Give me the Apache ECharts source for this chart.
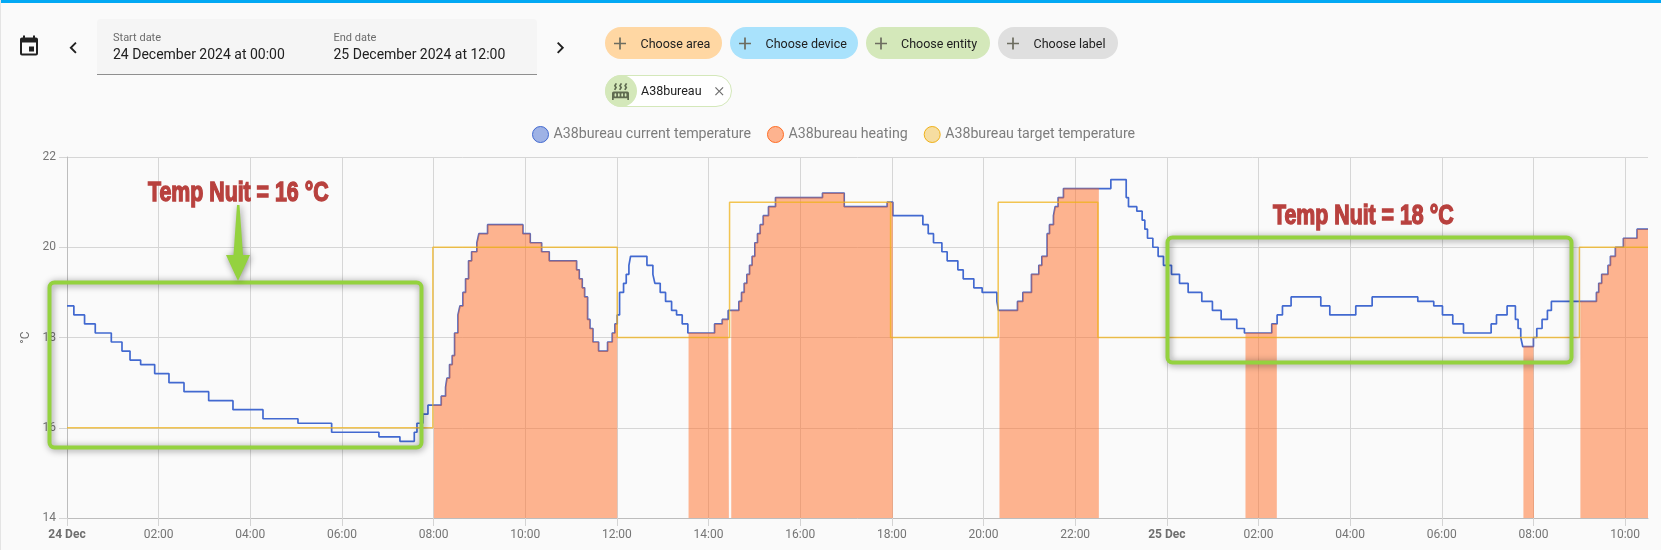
<!DOCTYPE html>
<html><head><meta charset="utf-8">
<style>html,body{margin:0;padding:0;background:#fafafa}#c{width:1661px;height:550px}</style>
<script src="https://cdn.jsdelivr.net/npm/echarts@6/dist/echarts.min.js"></script>
</head><body><div id="c"></div>
<script>
// minutes since 24 Dec 2024 00:00
const tempMinutes = [0,9,23,37,58,72,82.5,96.4,114.8,133.5,153.2,185.5,217.3,256.6,302.4,346.5,408.4,435.9,454.7,458.2,466,472.6,
490,495.7,497.5,500.9,504.4,507.5,511.9,514.5,518.4,521.9,525.8,529.8,536.7,539.3,550.7,596.9,606.5,621.4,631.4,667.2,670.7,674.6,677.7,681.6,684.7,688.6,696,707.8,713.9,717.4,720.4,723.5,728.7,732.2,735.7,737.9,759.3,767.1,769.7,776.7,783.7,791.6,798.1,805.5,812.9,847.9,857.9,865.7,879.7,883.2,886.7,890.2,893.7,897.1,900.6,904.1,907.6,911.6,918.5,927.7,989.2,1017.6,
1073.9,1081.3,1120.6,1127.6,1134.5,1145.5,1152.4,1166.4,1173.4,1187.3,1198.2,1217.5,1219.6,1244.5,1251.5,1262.8,1272.4,1276.4,1283.3,1286.4,1291.6,1293.8,1297.7,1304.7,1366.7,1386.8,1389.8,1400.7,1407.7,1411.2,1414.7,1421.7,1428.6,1435.6,1446.1,1456.6,1467.9,1485.8,1499.7,1511.1,1531.6,1541.6,
1577.4,1584.4,1591.4,1602.7,1641.6,1653.4,1687.4,1708.8,1768.6,1789.5,1800.9,1814.4,1828.4,1864.6,1871.6,1885.5,1896.4,1899.9,1903.4,1906,1920,1924.4,1931.3,1938.3,1943.5,2002.5,2005.5,2009.4,2017.7,2020.8,2027.3,2037.8,2055.7,2070];
const tempValues = [18.7,18.5,18.3,18.1,17.9,17.7,17.5,17.4,17.2,17.0,16.8,16.6,16.4,16.2,16.1,15.9,15.8,15.7,15.9,16.1,16.3,16.5,
16.7,16.9,17.1,17.4,17.6,18.1,18.5,18.7,19.0,19.3,19.7,19.9,20.1,20.3,20.5,20.3,20.1,19.9,19.7,19.5,19.3,19.1,18.9,18.4,18.2,17.9,17.7,17.9,18.1,18.3,18.5,19.0,19.2,19.4,19.6,19.8,19.6,19.4,19.2,19.0,18.8,18.6,18.5,18.3,18.1,18.3,18.4,18.6,18.8,19.0,19.2,19.4,19.6,19.8,20.1,20.3,20.5,20.7,20.9,21.1,21.2,20.9,
21.0,20.7,20.5,20.3,20.1,19.9,19.7,19.5,19.3,19.1,19.0,18.8,18.6,18.8,19.0,19.4,19.6,19.8,20.3,20.5,20.7,20.9,21.1,21.3,21.5,21.1,20.9,20.8,20.6,20.4,20.2,20.0,19.8,19.6,19.4,19.2,19.0,18.8,18.6,18.4,18.2,18.1,
18.3,18.5,18.7,18.9,18.7,18.5,18.7,18.9,18.8,18.7,18.5,18.3,18.1,18.3,18.5,18.7,18.4,18.2,18.0,17.8,18.0,18.2,18.4,18.6,18.8,19.0,19.2,19.4,19.6,19.8,20.0,20.2,20.4,20.4];
const targetMinutes = [0,479,720.4,867.5,1078.3,1219.2,1349.7,1980.2,2070];
const targetValues = [16,20,18,21,18,21,18,20,20];
const heatStarts = [480.4,813.8,869.7,1220.9,1543,1906.9,1981.5];
const heatEnds   = [720.4,866.6,1081.3,1351,1584,1920.8,2070];
const seriesNames = ['A38bureau current temperature','A38bureau heating','A38bureau target temperature'];
const yTicks = {min:14,max:22,interval:2};
const xTickMinutes = [0,120,240,360,480,600,720,840,960,1080,1200,1320,1440,1560,1680,1800,1920,2040];
const xTickLabels = ['24 Dec','02:00','04:00','06:00','08:00','10:00','12:00','14:00','16:00','18:00','20:00','22:00','25 Dec','02:00','04:00','06:00','08:00','10:00'];

const tempAt = m => { let v = tempValues[0]; for (let i=0;i<tempMinutes.length;i++){ if (tempMinutes[i]<=m) v=tempValues[i]; } return v; };
const currentData = tempMinutes.map((m,i)=>[m,tempValues[i]]);
const targetData = targetMinutes.map((m,i)=>[m,targetValues[i]]);
const heatData = [];
heatStarts.forEach((s,k)=>{
  const e = heatEnds[k];
  heatData.push([s,tempAt(s)]);
  tempMinutes.forEach((m,i)=>{ if (m>s && m<e) heatData.push([m,tempValues[i]]); });
  heatData.push([e,tempAt(e)]);
  if (k<heatStarts.length-1) heatData.push([e+0.01,null]);
});

const ICON = {
  cal:{d:'M19,19H5V8H19M16,1V3H8V1H6V3H5C3.89,3 3,3.89 3,5V19A2,2 0 0,0 5,21H19A2,2 0 0,0 21,19V5C21,3.89 20.1,3 19,3H18V1M17,12H12V17H17V12Z',bx:3,by:1},
  left:{d:'M15.41,16.58L10.83,12L15.41,7.41L14,6L8,12L14,18L15.41,16.58Z',bx:8,by:6},
  right:{d:'M8.59,16.58L13.17,12L8.59,7.41L10,6L16,12L10,18L8.59,16.58Z',bx:8.59,by:6},
  plus:{d:'M19,13H13V19H11V13H5V11H11V5H13V11H19V13Z',bx:5,by:5},
  close:{d:'M19,6.41L17.59,5L12,10.59L6.41,5L5,6.41L10.59,12L5,17.59L6.41,19L12,13.41L17.59,19L19,17.59L13.41,12L19,6.41Z',bx:5,by:5},
  rad:{d:'M7.95,3L6.53,5.19L7.95,7.4H7.94L5.95,10.5L4.22,9.6L5.58,7.41L4.22,5.23L6.22,2.13L7.95,3M13.95,2.89L12.53,5.1L13.95,7.3L13.94,7.31L11.95,10.4L10.22,9.5L11.58,7.31L10.22,5.13L12.22,2.04L13.95,2.89M20,2.89L18.56,5.1L20,7.3V7.31L18,10.4L16.25,9.5L17.61,7.31L16.25,5.13L18.25,2.04L20,2.89M2,22V14A2,2 0 0,1 4,12H20A2,2 0 0,1 22,14V22H20V20H4V22H2M6,14A1,1 0 0,0 5,15V17A1,1 0 0,0 6,18A1,1 0 0,0 7,17V15A1,1 0 0,0 6,14M10,14A1,1 0 0,0 9,15V17A1,1 0 0,0 10,18A1,1 0 0,0 11,17V15A1,1 0 0,0 10,14M14,14A1,1 0 0,0 13,15V17A1,1 0 0,0 14,18A1,1 0 0,0 15,17V15A1,1 0 0,0 14,14M18,14A1,1 0 0,0 17,15V17A1,1 0 0,0 18,18A1,1 0 0,0 19,17V15A1,1 0 0,0 18,14Z',bx:2,by:2}
};
Object.keys(ICON).forEach(k=>echarts.graphic.registerShape('ic_'+k,echarts.graphic.extendPath(ICON[k].d,{})));
const R = (x,y,w,h,fill,r,extra) => ({type:'rect',shape:{x,y,width:w,height:h,r:r||0},style:Object.assign({fill},extra||{}),silent:true,z:50});
const P = (k,x,y,s,fill) => ({type:'ic_'+k,x:x-ICON[k].bx*s,y:y-ICON[k].by*s,scaleX:s,scaleY:s,style:{fill},silent:true,z:51});
const TX = (text,x,y,font,fill,extra) => ({type:'text',x,y,silent:true,z:52,style:Object.assign({text,font,fill,align:'left',textAlign:'left',verticalAlign:'middle',textVerticalAlign:'middle'},extra||{})});
const UI = '"Roboto",sans-serif';
const GREEN = '#94d23f';
const SH = {shadowBlur:7,shadowColor:'rgba(0,0,0,0.45)',shadowOffsetX:1,shadowOffsetY:1};
const chip = (x,w,color,label,tx) => [R(x,27,w,32,color,16),P('plus',x+9,37.5,0.857,'#6d6d60'),TX(label,tx,45,'12.5px '+UI,'#212121')];
const noteFont = 'bold 27px "Liberation Sans",sans-serif';
const noteStyle = {stroke:'#b8413e',lineWidth:1.4,shadowBlur:5,shadowColor:'rgba(0,0,0,0.55)',shadowOffsetX:2,shadowOffsetY:2};
const noteText = (t,x,y)=>Object.assign(TX(t,x,y,noteFont,'#b8413e',noteStyle),{z:61,scaleX:0.79});

const graphic = [
  R(0,0,1661,3,'#03a9f4'),
  R(0,0,1,550,'#e4e4e4'),
  P('cal',20,35.5,1,'#212121'),
  P('left',69.5,42,0.96,'#212121'),
  P('right',557,42,0.96,'#212121'),
  R(97,19,440,55,'#f5f5f5',[4,4,0,0]),
  R(97,74,440,1,'#8f8f8f'),
  TX('Start date',113,38.5,'11px '+UI,'#6b6b6b'),
  TX('24 December 2024 at 00:00',113,55,'14px '+UI,'#212121'),
  TX('End date',333.5,38.5,'11px '+UI,'#6b6b6b'),
  TX('25 December 2024 at 12:00',333.5,55,'14px '+UI,'#212121'),
  ...chip(605,117,'#ffd7a3','Choose area',640.5),
  ...chip(730,128,'#a9e2fc','Choose device',765.5),
  ...chip(866,124,'#d4e8ba','Choose entity',901),
  ...chip(998,120,'#dfdfdf','Choose label',1033.5),
  R(605.5,75.5,126,31,'#ffffff',15.5,{stroke:'#d4e8ba',lineWidth:1}),
  R(605,75,32,32,'#d4e8ba',16),
  P('rad',612,83,0.85,'#5f6b50'),
  TX('A38bureau',641,92,'12.5px '+UI,'#212121'),
  P('close',715,87,0.607,'#6f6f6f'),
  Object.assign(R(49.5,282.5,372,165,'none',5,Object.assign({stroke:GREEN,lineWidth:4},SH)),{z:60}),
  Object.assign(R(1167.5,237.5,404,125,'none',5,Object.assign({stroke:GREEN,lineWidth:4},SH)),{z:60}),
  {type:'polygon',silent:true,z:60,shape:{points:[[237,205],[239.5,205],[243,255],[250,255],[238,281],[226,255],[233.5,255]]},style:Object.assign({fill:GREEN},SH)},
  noteText('Temp Nuit = 16 °C',148,194),
  noteText('Temp Nuit = 18 °C',1273,216.5)
];

const chart = echarts.init(document.getElementById('c'),null,{width:1661,height:550});
chart.setOption({
  animation:false,
  backgroundColor:'#fafafa',
  textStyle:{fontFamily:UI},
  legend:{
    left:532,top:126,padding:0,itemWidth:16,itemHeight:16,itemGap:16,icon:'circle',selectedMode:false,
    textStyle:{fontSize:14.2,color:'#7d7d7d',fontFamily:UI},
    data:[
      {name:seriesNames[0],itemStyle:{color:'rgba(66,105,208,0.5)',borderColor:'#4269d0',borderWidth:1}},
      {name:seriesNames[1],itemStyle:{color:'rgba(255,108,35,0.5)',borderColor:'#ff6c23',borderWidth:1}},
      {name:seriesNames[2],itemStyle:{color:'rgba(239,177,24,0.4)',borderColor:'#efb118',borderWidth:1}}
    ]
  },
  grid:{left:67,right:13,top:157,bottom:32,containLabel:false},
  xAxis:{
    type:'value',min:0,max:2070,interval:120,
    axisLine:{show:true,onZero:false,lineStyle:{color:'#bdbdbd',width:1}},
    axisTick:{show:true,length:8,lineStyle:{color:'#d4d4d4'},customValues:xTickMinutes},
    splitLine:{show:true,lineStyle:{color:'#d6d6d6',width:1}},
    minorTick:{show:false},
    axisLabel:{
      color:'#757575',fontSize:12,margin:11,hideOverlap:false,customValues:xTickMinutes,
      formatter:(v)=>{const s=xTickLabels[xTickMinutes.indexOf(v)]||''; return s.indexOf('Dec')>=0?'{b|'+s+'}':s;},
      rich:{b:{fontWeight:'bold',color:'#6e6e6e',fontSize:12}}
    }
  },
  yAxis:{
    type:'value',min:yTicks.min,max:yTicks.max,interval:yTicks.interval,
    name:'°C',nameLocation:'middle',nameRotate:90,nameGap:28,nameTextStyle:{color:'#6e6e6e',fontSize:12},
    axisLine:{show:true,onZero:false,lineStyle:{color:'#bdbdbd',width:1}},
    axisTick:{show:true,length:8,lineStyle:{color:'#d4d4d4'}},
    splitLine:{show:true,lineStyle:{color:'#d6d6d6',width:1}},
    axisLabel:{color:'#757575',fontSize:12,margin:11}
  },
  series:[
    {name:seriesNames[0],type:'line',step:'end',symbol:'none',data:currentData,lineStyle:{color:'#4269d0',width:1.7},itemStyle:{color:'#4269d0'},z:3},
    {name:seriesNames[1],type:'line',step:'end',symbol:'none',data:heatData,connectNulls:false,lineStyle:{color:'rgba(255,108,35,0.14)',width:1.5},itemStyle:{color:'#ff6c23'},areaStyle:{color:'rgba(255,108,35,0.5)',opacity:1,origin:'start'},z:4},
    {name:seriesNames[2],type:'line',step:'end',symbol:'none',data:targetData,lineStyle:{color:'rgba(239,177,24,0.75)',width:1.5},itemStyle:{color:'#efb118'},z:5}
  ],
  graphic:{elements:graphic}
});
</script></body></html>
